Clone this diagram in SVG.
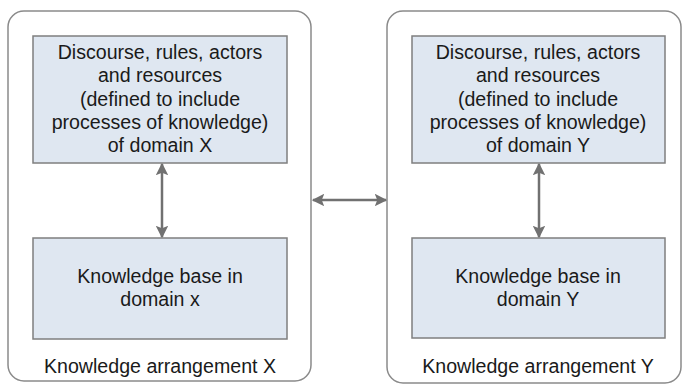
<svg xmlns="http://www.w3.org/2000/svg" width="684" height="386" viewBox="0 0 684 386">
<style>
.cont{fill:#ffffff;stroke:#8a8a8a;stroke-width:1.5}
.box{fill:#dfe7f1;stroke:#7f7f7f;stroke-width:1.5}
.t{font-family:"Liberation Sans",Arial,sans-serif;font-size:19.6px;fill:#1a1a1a;text-anchor:middle}
.conn{stroke:#717171;stroke-width:2.5;fill:none;marker-start:url(#ah);marker-end:url(#ah)}
</style>
<defs>
<marker id="ah" viewBox="0 0 10 10" refX="9" refY="5" markerWidth="5" markerHeight="5" orient="auto-start-reverse" markerUnits="strokeWidth">
<path d="M0,0 L10,5 L0,10 L2,5 Z" fill="#717171"/>
</marker>
</defs>
<rect width="684" height="386" fill="#ffffff"/>
<g id="arrangementX">
<rect class="cont" x="8" y="11" width="303" height="370" rx="16"/>
<text class="t" x="160" y="373">Knowledge arrangement X</text>
</g>
<g id="arrangementY">
<rect class="cont" x="387" y="11" width="294" height="372" rx="16"/>
<text class="t" x="538" y="373">Knowledge arrangement Y</text>
</g>
<g id="discourseX">
<rect class="box" x="33" y="36" width="254" height="127"/>
<text class="t" x="160" y="59">Discourse, rules, actors</text>
<text class="t" x="160" y="82">and resources</text>
<text class="t" x="160" y="105.5">(defined to include</text>
<text class="t" x="160" y="129">processes of knowledge)</text>
<text class="t" x="160" y="152">of domain X</text>
</g>
<g id="baseX">
<rect class="box" x="33" y="238" width="254" height="101"/>
<text class="t" x="160" y="283">Knowledge base in</text>
<text class="t" x="160" y="306">domain x</text>
</g>
<g id="discourseY">
<rect class="box" x="412" y="36" width="253" height="127"/>
<text class="t" x="538" y="59">Discourse, rules, actors</text>
<text class="t" x="538" y="82">and resources</text>
<text class="t" x="538" y="105.5">(defined to include</text>
<text class="t" x="538" y="129">processes of knowledge)</text>
<text class="t" x="538" y="152">of domain Y</text>
</g>
<g id="baseY">
<rect class="box" x="412" y="238" width="253" height="100"/>
<text class="t" x="538" y="283">Knowledge base in</text>
<text class="t" x="538" y="306">domain Y</text>
</g>
<g id="connectors">
<line class="conn" x1="162" y1="164" x2="162" y2="237"/>
<line class="conn" x1="539" y1="164" x2="539" y2="237"/>
<line class="conn" x1="313" y1="200" x2="386" y2="200"/>
</g>
</svg>
